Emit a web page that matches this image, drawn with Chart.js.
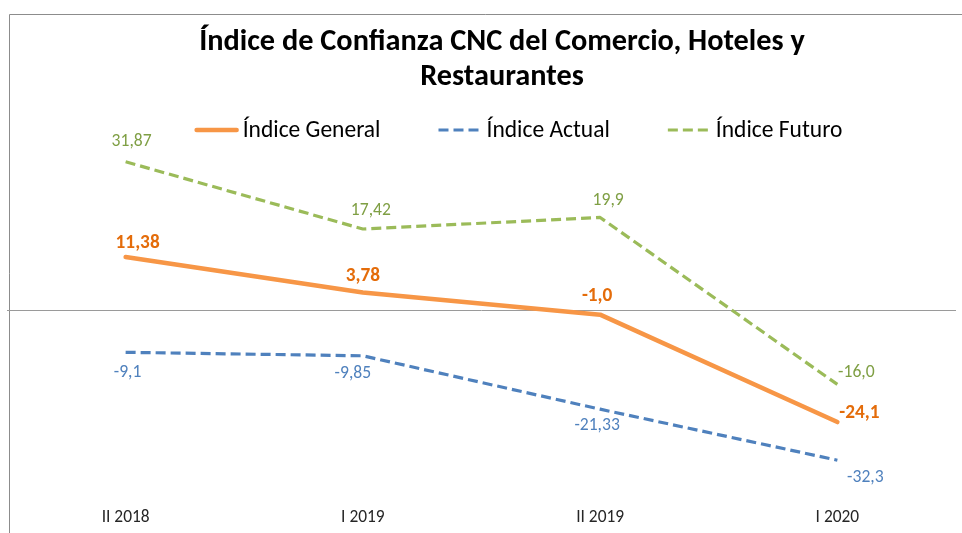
<!DOCTYPE html>
<html>
<head>
<meta charset="utf-8">
<script src="https://cdn.jsdelivr.net/npm/chart.js@4/dist/chart.umd.min.js"></script>
<style>
  html,body{margin:0;padding:0;background:#fff;}
  #wrap{position:relative;width:962px;height:533px;}
</style>
</head>
<body>
<div id="wrap"><canvas id="c" width="962" height="533"></canvas></div>
<script>
// ---- data ----
const categories = ['II 2018', 'I 2019', 'II 2019', 'I 2020'];
const seriesNames = ['Índice General', 'Índice Actual', 'Índice Futuro'];
const indiceGeneral = [11.38, 3.78, -1.0, -24.1];
const indiceActual = [-9.1, -9.85, -21.33, -32.3];
const indiceFuturo = [31.87, 17.42, 19.9, -16.0];
const labelsGeneral = ['11,38', '3,78', '-1,0', '-24,1'];
const labelsActual = ['-9,1', '-9,85', '-21,33', '-32,3'];
const labelsFuturo = ['31,87', '17,42', '19,9', '-16,0'];
const titleLines = ['Índice de Confianza CNC del Comercio, Hoteles y', 'Restaurantes'];

// ---- style ----
const FAMILY = 'Calibri, Carlito, Lato, sans-serif';
const mctx = document.createElement('canvas').getContext('2d');
function fitSize(text, weight, target) {
  mctx.font = weight + ' 100px ' + FAMILY;
  return Math.round(100 * target / mctx.measureText(text).width * 10) / 10;
}
const titleSize = fitSize(titleLines[0], 'bold', 605);
const legendSize = fitSize(seriesNames[0], 'normal', 138);
const axisSize = fitSize(categories[0], 'normal', 48);
const labelSize = fitSize(labelsFuturo[0], 'normal', 40);
const boldLabelSize = fitSize(labelsGeneral[0], 'bold', 44);

const lineColors = ['#F79646', '#4F81BD', '#9BBB59'];
const textColors = ['#E46C0A', '#4F81BD', '#7F9F44'];
const labelOffsets = [
  [[12, -14], [0, -16], [-3, -18], [22, -9]],
  [[2, 20], [-10, 18], [-3, 16], [28, 17]],
  [[6, -20], [8, -18], [8, -17], [19, -12]]
];
const valueLabels = [labelsGeneral, labelsActual, labelsFuturo];

const overlay = {
  id: 'overlay',
  beforeDraw(chart) {
    const ctx = chart.ctx;
    ctx.save();
    ctx.fillStyle = '#fff';
    ctx.fillRect(0, 0, chart.width, chart.height);
    ctx.strokeStyle = '#8C8C8C';
    ctx.lineWidth = 1;
    ctx.beginPath();
    ctx.moveTo(9.5, chart.height);
    ctx.lineTo(9.5, 14.5);
    ctx.lineTo(chart.width, 14.5);
    ctx.stroke();
    ctx.restore();
  },
  afterDatasetsDraw(chart) {
    const ctx = chart.ctx;
    ctx.save();
    ctx.textAlign = 'center';
    ctx.textBaseline = 'middle';
    chart.data.datasets.forEach((ds, di) => {
      const meta = chart.getDatasetMeta(di);
      ctx.fillStyle = textColors[di];
      ctx.font = (di === 0 ? 'bold ' + boldLabelSize : 'normal ' + labelSize) + 'px ' + FAMILY;
      meta.data.forEach((pt, i) => {
        const o = labelOffsets[di][i];
        ctx.fillText(valueLabels[di][i], pt.x + o[0], pt.y + o[1]);
      });
    });
    ctx.restore();
  },
  afterDraw(chart) {
    const ctx = chart.ctx;
    ctx.save();
    // title
    ctx.fillStyle = '#000';
    ctx.textAlign = 'center';
    ctx.textBaseline = 'alphabetic';
    ctx.font = 'bold ' + titleSize + 'px ' + FAMILY;
    ctx.fillText(titleLines[0], 502, 50);
    ctx.fillText(titleLines[1], 502, 85);
    // legend
    ctx.font = 'normal ' + legendSize + 'px ' + FAMILY;
    const lineLen = 44, gap = 4, itemGap = 58;
    const widths = seriesNames.map(n => ctx.measureText(n).width);
    const total = widths.reduce((a, w) => a + lineLen + gap + w, 0) + itemGap * (seriesNames.length - 1);
    let x = 518.5 - total / 2;
    const ly = 130;
    ctx.textAlign = 'left';
    ctx.textBaseline = 'middle';
    seriesNames.forEach((n, i) => {
      const ds = chart.data.datasets[i];
      ctx.strokeStyle = ds.borderColor;
      ctx.lineWidth = ds.borderWidth;
      ctx.lineCap = i === 0 ? 'round' : 'butt';
      ctx.setLineDash(ds.borderDash || []);
      ctx.beginPath();
      ctx.moveTo(x + (i === 0 ? 2 : 0), ly);
      ctx.lineTo(x + lineLen - (i === 0 ? 2 : 0), ly);
      ctx.stroke();
      ctx.setLineDash([]);
      ctx.fillStyle = '#000';
      ctx.fillText(n, x + lineLen + gap, ly + 1);
      x += lineLen + gap + widths[i] + itemGap;
    });
    ctx.restore();
  }
};

new Chart(document.getElementById('c'), {
  type: 'line',
  data: {
    labels: categories,
    datasets: [
      { label: seriesNames[0], data: indiceGeneral, borderColor: lineColors[0], backgroundColor: lineColors[0],
        borderWidth: 4.5, pointRadius: 0, tension: 0, borderJoinStyle: 'round', borderCapStyle: 'round', order: 0 },
      { label: seriesNames[1], data: indiceActual, borderColor: lineColors[1], backgroundColor: lineColors[1],
        borderWidth: 3.2, borderDash: [10, 5], pointRadius: 0, tension: 0, borderJoinStyle: 'round', order: 1 },
      { label: seriesNames[2], data: indiceFuturo, borderColor: lineColors[2], backgroundColor: lineColors[2],
        borderWidth: 3.2, borderDash: [10, 5], pointRadius: 0, tension: 0, borderJoinStyle: 'round', order: 2 }
    ]
  },
  options: {
    responsive: false,
    animation: false,
    layout: { padding: { left: 7, right: 6, top: 124, bottom: 7 } },
    plugins: { legend: { display: false }, title: { display: false }, tooltip: { enabled: false } },
    scales: {
      x: {
        offset: true,
        grid: { display: false, drawTicks: false },
        border: { display: false },
        ticks: { color: '#262626', font: { family: FAMILY, size: axisSize }, padding: 11, maxRotation: 0 },
        afterFit: (s) => { s.height = 30; }
      },
      y: {
        min: -40, max: 40,
        ticks: { display: false, stepSize: 10 },
        border: { display: false },
        grid: {
          drawTicks: false,
          lineWidth: 1,
          color: (c) => (c.tick && c.tick.value === 0 ? '#9A9A9A' : 'rgba(0,0,0,0)')
        }
      }
    }
  },
  plugins: [overlay]
});
</script>
</body>
</html>
